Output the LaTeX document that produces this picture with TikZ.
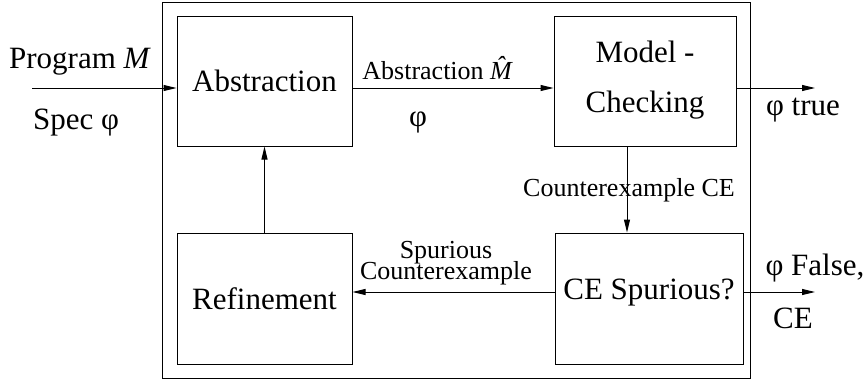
\documentclass[tikz,border=0pt]{standalone}
\usepackage{fontspec}
\setmainfont{Liberation Serif}
\usetikzlibrary{arrows.meta}
\begin{document}
\begin{tikzpicture}[x=1pt,y=-1pt,
 box/.style={draw, line width=1pt, inner sep=0pt, align=center, font=\fontsize{31}{50}\selectfont},
 big/.style={inner sep=0pt, font=\fontsize{31}{37}\selectfont},
 small/.style={inner sep=0pt, align=center, font=\fontsize{26}{17}\selectfont},
 conn/.style={line width=1pt, -{Triangle[length=13pt,width=6pt]}}]
\useasboundingbox (0,0) rectangle (868,381);
\draw[line width=1pt] (162,2) rectangle (750,378);
\node[box, minimum width=175pt, minimum height=130pt] (abs) at (264.5,81) {Abstraction};
\node[box, minimum width=182pt, minimum height=130pt, text depth=9pt] (mc) at (645,81) {Model -\\Checking};
\node[box, minimum width=175pt, minimum height=131pt] (ref) at (264.5,298.5) {Refinement};
\node[box, minimum width=188pt, minimum height=131pt, text depth=19pt] (ce) at (649,298.5) {CE Spurious?};
\coordinate (pin) at (32,88);
\coordinate (tout) at (815,88);
\coordinate (cx) at (627,190);
\coordinate (ry) at (32,292);
\coordinate (fout) at (815,292);
\draw[conn] (pin) -- (pin -| abs.west);
\draw[conn] (abs.east |- pin) -- (mc.west |- pin);
\draw[conn] (mc.east |- pin) -- (tout);
\draw[conn] (mc.south -| cx) -- (ce.north -| cx);
\draw[conn] (ce.west |- ry) -- (ref.east |- ry);
\draw[conn] (ce.east |- ry) -- (fout);
\draw[conn] (ref.north) -- (abs.south);
\node[big] (lprog) at (80,62) {Program \textit{M}};
\node[big] (lspec) at (76,123) {Spec φ};
\node[small] (labs) at (442,68) {Abstraction \textit{\^M}};
\node[big] (lphi) at (418,122) {φ};
\node[big] (ltrue) at (803,110) {φ true};
\node[small] (lcex) at (629,190) {Counterexample CE};
\node[small] (lspur) at (446,263) {Spurious\\[-4pt]Counterexample};
\node[big] (lfalse) at (815,268) {φ False,};
\node[big] (lce) at (793,318) {CE};
\end{tikzpicture}
\end{document}
